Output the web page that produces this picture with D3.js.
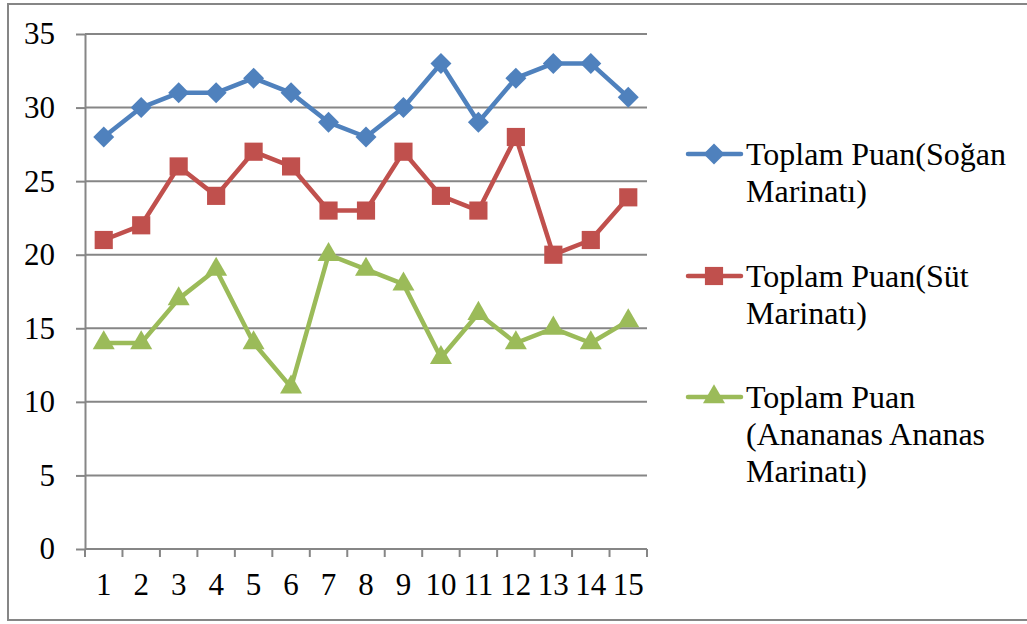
<!DOCTYPE html>
<html>
<head>
<meta charset="utf-8">
<script src="https://cdn.jsdelivr.net/npm/d3@7"></script>
<style>
    body { margin: 0; background: #fff; }
    .grid line { stroke: #868686; stroke-width: 2; }
    .axis path, .axis line { stroke: #868686; stroke-width: 2; }
</style>
</head>
<body>
<div id="chart"></div>
<script>
// Data
var categories = [1, 2, 3, 4, 5, 6, 7, 8, 9, 10, 11, 12, 13, 14, 15];
var soganValues = [28, 30, 31, 31, 32, 31, 29, 28, 30, 33, 29, 32, 33, 33, 30.7];
var sutValues = [21, 22, 26, 24, 27, 26, 23, 23, 27, 24, 23, 28, 20, 21, 23.9];
var ananasValues = [14, 14, 17, 19, 14, 11, 20, 19, 18, 13, 16, 14, 15, 14, 15.5];
var yTicks = [0, 5, 10, 15, 20, 25, 30, 35];
var seriesNames = [
    ['Toplam Puan(Soğan', 'Marinatı)'],
    ['Toplam Puan(Süt', 'Marinatı)'],
    ['Toplam Puan', '(Anananas Ananas', 'Marinatı)']
];

var W = 1027, H = 624;
var margin = {top: 34, left: 85};
var plotW = 562, plotH = 515;
var axisFont = 31;
var legendFont = 32;
var fontFamily = '"Liberation Serif", "DejaVu Serif", serif';

// rotated square looks like the Excel diamond
var diamond = {
    draw: function(ctx, size) {
        var r = Math.sqrt(size / 2);
        ctx.moveTo(0, -r); ctx.lineTo(r, 0); ctx.lineTo(0, r); ctx.lineTo(-r, 0); ctx.closePath();
    }
};

var series = [
    {name: seriesNames[0], values: soganValues, color: '#4F81BD', symbol: diamond, size: 220, legendY: 154},
    {name: seriesNames[1], values: sutValues, color: '#C0504D', symbol: d3.symbolSquare, size: 330, legendY: 276},
    {name: seriesNames[2], values: ananasValues, color: '#9BBB59', symbol: d3.symbolTriangle, size: 210, legendY: 397}
];

var svg = d3.select('#chart').append('svg')
    .attr('width', W)
    .attr('height', H);

// outer frame
svg.append('rect')
    .attr('x', 8).attr('y', 4)
    .attr('width', W + 10).attr('height', 616)
    .attr('fill', 'none')
    .attr('stroke', '#868686')
    .attr('stroke-width', 2);

var g = svg.append('g')
    .attr('transform', 'translate(' + margin.left + ',' + margin.top + ')');

var x = d3.scaleBand().domain(categories).range([0, plotW]);
var y = d3.scaleLinear().domain([0, 35]).range([plotH, 0]);

// horizontal gridlines
g.append('g')
    .attr('class', 'grid')
    .selectAll('line')
    .data(yTicks.filter(function(d){ return d > 0; }))
    .enter().append('line')
    .attr('x1', 0).attr('x2', plotW)
    .attr('y1', function(d){ return y(d); })
    .attr('y2', function(d){ return y(d); });

// y axis
var yAxis = g.append('g')
    .attr('class', 'axis axis--y')
    .call(d3.axisLeft(y).tickValues(yTicks).tickSize(9).tickSizeOuter(0).tickPadding(21));
yAxis.attr('font-family', fontFamily).attr('font-size', axisFont);
yAxis.selectAll('text').attr('fill', '#000');

// x axis: ticks on band edges
var xAxis = g.append('g')
    .attr('class', 'axis axis--x')
    .attr('transform', 'translate(0,' + plotH + ')');
xAxis.append('line')
    .attr('x1', 0).attr('x2', plotW);
xAxis.selectAll('.tick-mark')
    .data(categories.concat([null]))
    .enter().append('line')
    .attr('class', 'tick-mark')
    .attr('x1', function(d, i){ return i * x.bandwidth(); })
    .attr('x2', function(d, i){ return i * x.bandwidth(); })
    .attr('y1', 0).attr('y2', 8);
xAxis.selectAll('text')
    .data(categories)
    .enter().append('text')
    .attr('x', function(d){ return x(d) + x.bandwidth() / 2; })
    .attr('y', 46)
    .attr('text-anchor', 'middle')
    .attr('font-family', fontFamily)
    .attr('font-size', axisFont)
    .text(function(d){ return d; });

var line = d3.line()
    .x(function(d, i){ return x(categories[i]) + x.bandwidth() / 2; })
    .y(function(d){ return y(d); });

series.forEach(function(s){
    var sg = g.append('g').attr('class', 'series');
    sg.append('path')
        .attr('d', line(s.values))
        .attr('fill', 'none')
        .attr('stroke', s.color)
        .attr('stroke-width', 4.5)
        .attr('stroke-linejoin', 'round');
    sg.selectAll('.marker')
        .data(s.values)
        .enter().append('path')
        .attr('class', 'marker')
        .attr('d', d3.symbol().type(s.symbol).size(s.size))
        .attr('fill', s.color)
        .attr('transform', function(d, i){
            return 'translate(' + (x(categories[i]) + x.bandwidth() / 2) + ',' + y(d) + ')';
        });
});

// LEGEND
var legend = svg.append('g').attr('class', 'legend');
series.forEach(function(s){
    var lg = legend.append('g')
        .attr('transform', 'translate(0,' + s.legendY + ')');
    lg.append('line')
        .attr('x1', 688).attr('x2', 741)
        .attr('y1', 0).attr('y2', 0)
        .attr('stroke', s.color)
        .attr('stroke-width', 4.5)
        .attr('stroke-linecap', 'round');
    lg.append('path')
        .attr('d', d3.symbol().type(s.symbol).size(s.size))
        .attr('fill', s.color)
        .attr('transform', 'translate(714,0)');
    s.name.forEach(function(t, i){
        lg.append('text')
            .attr('x', 746)
            .attr('y', 11 + i * 37)
            .attr('font-family', fontFamily)
            .attr('font-size', legendFont)
            .attr('fill', '#000')
            .text(t);
    });
});
</script>
</body>
</html>
